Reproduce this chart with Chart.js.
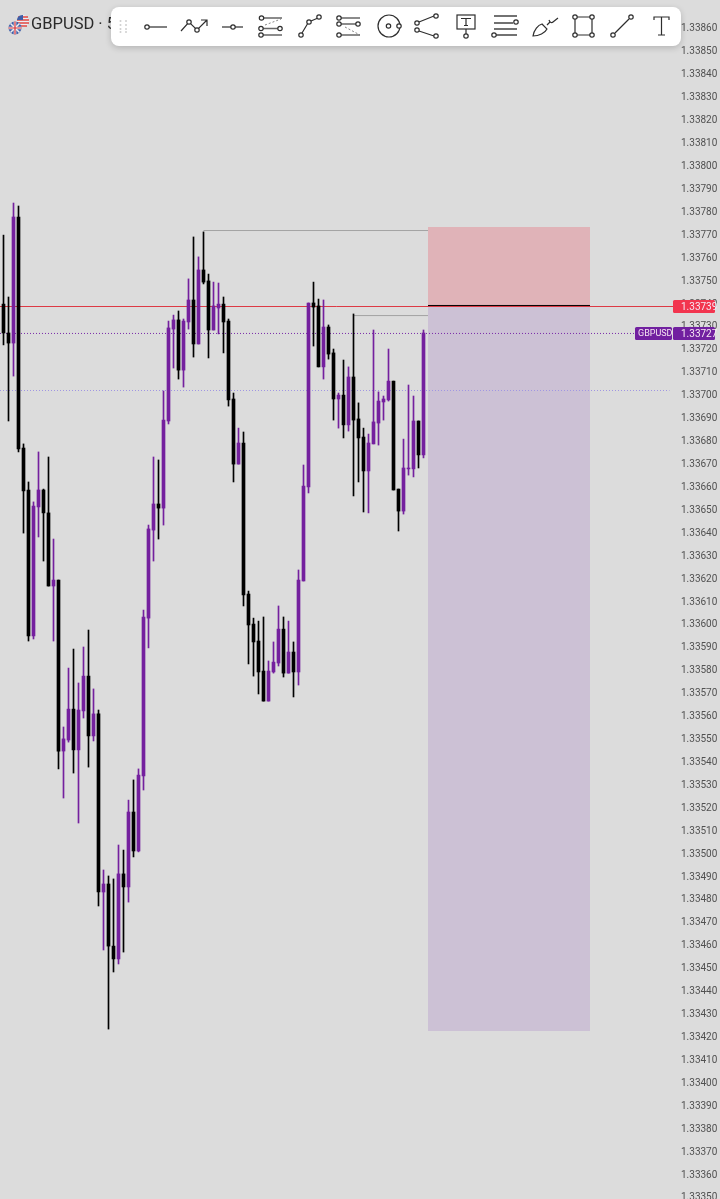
<!DOCTYPE html>
<html>
<head>
<meta charset="utf-8">
<title>GBPUSD</title>
<script src="https://cdn.jsdelivr.net/npm/chart.js@4"></script>
<style>
html,body{margin:0;padding:0;background:#dcdcdc;width:720px;height:1199px;overflow:hidden}
#wrap{position:relative;width:720px;height:1199px}
canvas{position:absolute;left:0;top:0}
#title{position:absolute;left:31px;top:14px;font:16.5px Roboto,sans-serif;color:#2b2b2b;white-space:nowrap}
#flag{position:absolute;left:8px;top:14px}
#bar{position:absolute;left:111px;top:7px;width:570px;height:39px;background:#fff;border-radius:8px;box-shadow:0 2px 6px rgba(0,0,0,.18)}
#icons{position:absolute;left:0;top:0}
#icons *{fill:none;stroke:#2e2e2e;stroke-width:1.2}
#icons circle{fill:#fff}
#icons .g{stroke:#666;stroke-width:1.7}
#icons .dots circle{fill:#cfcfcf;stroke:none}
#icons .d{stroke-dasharray:2 2;stroke:#777;stroke-width:.9}
</style>
</head>
<body>
<div id="wrap">
<canvas id="c" width="720" height="1199"></canvas>
<svg id="flag" width="24" height="24" viewBox="0 0 24 24">
  <circle cx="15" cy="7" r="6" fill="#e9eef5"/>
  <path d="M10 3h10M9 6h12M9 9h12M11 12h8" stroke="#e2453f" stroke-width="1.4"/>
  <path d="M10 3a6 6 0 0 1 5-2v5h-6a6 6 0 0 1 1-3z" fill="#3f5ea8"/>
  <circle cx="7" cy="14" r="6.500" fill="#3f5ea8"/>
  <path d="M2.500 9.500l9 9M11.500 9.500l-9 9" stroke="#eee" stroke-width="1.500"/>
  <path d="M7 7.500v13M.5 14h13" stroke="#eee" stroke-width="2.600"/>
  <path d="M7 7.500v13M.5 14h13" stroke="#d8343c" stroke-width="1.200"/>
</svg>
<div id="title">GBPUSD · 5</div>
<div id="bar"></div>
<svg id="icons" width="720" height="60">
  <g class="dots">
    <circle cx="120.500" cy="21" r="1"/><circle cx="126" cy="21" r="1"/>
    <circle cx="120.500" cy="25" r="1"/><circle cx="126" cy="25" r="1"/>
    <circle cx="120.500" cy="29" r="1"/><circle cx="126" cy="29" r="1"/>
    <circle cx="120.500" cy="32" r="1"/><circle cx="126" cy="32" r="1"/>
  </g>
  <path d="M149 27h18"/><circle cx="147" cy="27" r="2.200"/>
  <path d="M181 31l8-9 8 8 10-10M201 20h6v6"/><circle cx="189" cy="22" r="2.200"/><circle cx="197" cy="30" r="2.200"/>
  <path d="M222 27h21"/><circle cx="233" cy="27" r="2.200"/>
  <path d="M263 18h19M263 28.500h16M263 35h19" class="g"/><path d="M265 25l16-6" class="d"/>
  <circle cx="261.500" cy="18" r="2.200"/><circle cx="261" cy="28.500" r="2.200"/><circle cx="280" cy="28.500" r="2.200"/><circle cx="261" cy="35" r="2.200"/>
  <path d="M302 33l6-10M311 21l7-3"/><circle cx="301" cy="35" r="2.200"/><circle cx="309" cy="22" r="2.200"/><circle cx="319" cy="17" r="2.200"/>
  <path d="M341 18h19M341 24h15M341 35h19" class="g"/><path d="M345 27l15 8" class="d"/>
  <circle cx="339" cy="18" r="2.200"/><circle cx="339" cy="24" r="2.200"/><circle cx="358" cy="24" r="2.200"/><circle cx="339" cy="35" r="2.200"/>
  <circle cx="389" cy="26" r="11"/><circle cx="388.500" cy="26" r="2.200"/><circle cx="399" cy="26" r="2.200"/>
  <path d="M419 22l15-6M419 31l15 5"/><circle cx="417" cy="23" r="2.200"/><circle cx="436" cy="16" r="2.200"/><circle cx="417" cy="30" r="2.200"/><circle cx="436" cy="36" r="2.200"/>
  <rect x="457" y="15" width="18" height="14"/><path d="M461 18.500h10M466 18.500v7M464 25.500h4M466 29v5"/><circle cx="466" cy="36" r="2.200"/>
  <path d="M494 16h23M494 23h19M494 29h23M496 35h21" class="g" style="stroke:#444;stroke-width:1.300"/><circle cx="516" cy="22" r="2.200"/><circle cx="494" cy="35" r="2.200"/>
  <path d="M533 36c1-6 5-11 9-12l5 5c-2 4-8 7-14 7zM547 25l3-3M549 20c1 3 3 3 4 2M553 22l5-4"/>
  <path d="M575 17h17M575 35h17M575 17v18M592 17v18"/><circle cx="575" cy="17" r="2.200"/><circle cx="592" cy="17" r="2.200"/><circle cx="575" cy="35" r="2.200"/><circle cx="592" cy="35" r="2.200"/>
  <path d="M615 33l14-14"/><circle cx="613" cy="35" r="2.200"/><circle cx="631" cy="17" r="2.200"/>
  <path d="M654 20v-3h15v3M661.500 17v18M658 35h7"/>
</svg>
</div>
<script>
const symbol = 'GBPUSD';
const candleIndex = Array.from({length: 85}, (_, i) => i);
const opens = [1.337391,1.337265,1.337221,1.337771,1.336763,1.336580,1.335943,1.336506,1.336580,1.336480,1.336161,1.336187,1.335441,1.335489,1.335624,1.335446,1.335616,1.335768,1.335507,1.335603,1.334826,1.334861,1.334590,1.334534,1.334905,1.334848,1.335175,1.335005,1.335332,1.336021,1.336405,1.336519,1.336501,1.336881,1.337282,1.337322,1.337103,1.337313,1.337409,1.337217,1.337540,1.337492,1.337278,1.337374,1.337391,1.337317,1.336977,1.336693,1.336785,1.336126,1.335995,1.335921,1.335790,1.335659,1.335786,1.335825,1.335973,1.335781,1.335873,1.335786,1.336183,1.336593,1.337396,1.337383,1.337117,1.337291,1.337178,1.336977,1.336994,1.336864,1.337073,1.336890,1.336811,1.336663,1.336781,1.336872,1.336964,1.336973,1.337055,1.336584,1.336488,1.336672,1.336672,1.336881,1.336733];
const highs = [1.337692,1.337422,1.337832,1.337819,1.336781,1.336615,1.336528,1.336746,1.336584,1.336724,1.336366,1.336187,1.335546,1.335803,1.335886,1.335738,1.335895,1.335969,1.335712,1.335620,1.334922,1.334896,1.334883,1.335031,1.335009,1.335227,1.335315,1.335363,1.336056,1.336427,1.336724,1.336711,1.337012,1.337317,1.337343,1.337361,1.337326,1.337501,1.337684,1.337597,1.337706,1.337522,1.337487,1.337483,1.337422,1.337326,1.337003,1.336850,1.336833,1.336139,1.336021,1.336008,1.336026,1.335834,1.335917,1.336074,1.336026,1.336008,1.335917,1.336231,1.336689,1.337396,1.337487,1.337413,1.337409,1.337300,1.337195,1.337003,1.337147,1.337117,1.337348,1.336960,1.336850,1.336824,1.337278,1.337008,1.336990,1.337195,1.337055,1.336584,1.336802,1.337038,1.336990,1.336881,1.337278];
const lows = [1.337213,1.336881,1.337077,1.336746,1.336392,1.335921,1.335930,1.336375,1.336270,1.336161,1.335921,1.335363,1.335236,1.335480,1.335345,1.335127,1.335585,1.335371,1.335485,1.334765,1.334573,1.334228,1.334477,1.334512,1.334564,1.334782,1.334979,1.335001,1.335271,1.335891,1.336270,1.336366,1.336427,1.336868,1.337112,1.337064,1.337029,1.337282,1.337160,1.337217,1.337479,1.337156,1.337278,1.337261,1.337178,1.336946,1.336615,1.336693,1.336074,1.335821,1.335768,1.335690,1.335659,1.335659,1.335781,1.335812,1.335764,1.335781,1.335677,1.335729,1.336183,1.336567,1.337208,1.337117,1.337064,1.337151,1.336885,1.336850,1.336807,1.336837,1.336554,1.336615,1.336484,1.336480,1.336781,1.336776,1.336885,1.336968,1.336580,1.336401,1.336475,1.336645,1.336637,1.336676,1.336720];
const closes = [1.337265,1.337221,1.337771,1.336759,1.336576,1.335943,1.336510,1.336580,1.336480,1.336161,1.336187,1.335441,1.335494,1.335624,1.335446,1.335620,1.335768,1.335507,1.335603,1.334826,1.334861,1.334590,1.334534,1.334905,1.334848,1.335175,1.335005,1.335336,1.336026,1.336410,1.336519,1.336501,1.336885,1.337287,1.337322,1.337103,1.337317,1.337409,1.337217,1.337540,1.337487,1.337278,1.337383,1.337391,1.337313,1.336973,1.336693,1.336785,1.336122,1.335991,1.335917,1.335786,1.335659,1.335790,1.335829,1.335973,1.335781,1.335873,1.335786,1.336187,1.336597,1.337396,1.337378,1.337117,1.337291,1.337173,1.336977,1.336994,1.336864,1.337073,1.336885,1.336807,1.336663,1.336785,1.336877,1.336968,1.336977,1.337055,1.336580,1.336488,1.336676,1.336676,1.336881,1.336733,1.337265];
const yTicks = [1.3386,1.3385,1.3384,1.3383,1.3382,1.3381,1.338,1.3379,1.3378,1.3377,1.3376,1.3375,1.3374,1.3373,1.3372,1.3371,1.337,1.3369,1.3368,1.3367,1.3366,1.3365,1.3364,1.3363,1.3362,1.3361,1.336,1.3359,1.3358,1.3357,1.3356,1.3355,1.3354,1.3353,1.3352,1.3351,1.335,1.3349,1.3348,1.3347,1.3346,1.3345,1.3344,1.3343,1.3342,1.3341,1.334,1.3339,1.3338,1.3337,1.3336,1.3335];
// Position tool: profit / loss zones and entry
const zoneFrom = 84.9, zoneTo = 117.3;
const zoneTop = 1.337727, zoneEntry = 1.337385, zoneBottom = 1.334220;
// Horizontal price lines
const bidLine = 1.3373805, lastLine = 1.337263, paleLine = 1.337014;
const swingA = [40, 84.9, 1.337712], swingB = [70, 84.9, 1.337341];
const bidLabel = '1.33739', lastLabel = '1.33727';

const UP = '#74209e', DOWN = '#000000';
const colorFor = i => closes[i] >= opens[i] ? UP : DOWN;
const seg = (x0, x1, y) => [{x: x0, y}, {x: x1, y}];
const hline = (data, color, extra) => Object.assign({
  type: 'line', data, borderColor: color, borderWidth: 1, pointRadius: 0,
  fill: false, order: 5, tension: 0
}, extra || {});

const Y_TOP = 1.3387178, Y_BOTTOM = 1.3334866, X_MIN = -0.7, X_MAX = 133.9;

const badges = {
  id: 'badges',
  afterDatasetsDraw(chart) {
    const {ctx, scales: {y}} = chart;
    ctx.save();
    ctx.textBaseline = 'middle';
    const box = (x, w, py, color, text, tx, size) => {
      const t = Math.round(py - 6.500);
      ctx.fillStyle = color;
      ctx.beginPath();
      ctx.roundRect(x, t, w, 13, 1.500);
      ctx.fill();
      ctx.font = size + 'px "Liberation Sans Narrow", Roboto, sans-serif';
      ctx.fillStyle = '#f6e6f2';
      ctx.textAlign = 'left';
      ctx.fillText(text, tx, t + 7);
    };
    box(673, 42, y.getPixelForValue(bidLine), '#f2354f', bidLabel, 681, 10);
    const ly = y.getPixelForValue(lastLine);
    box(635, 37, ly, '#7120a0', symbol, 638, 9);
    box(673, 42, ly, '#7120a0', lastLabel, 681, 10);
    ctx.restore();
  }
};

new Chart(document.getElementById('c'), {
  type: 'bar',
  data: {
    datasets: [
      {
        label: 'bodies', grouped: false, barThickness: 3, order: 1,
        data: candleIndex.map(i => ({x: i, y: [opens[i], closes[i]]})),
        backgroundColor: candleIndex.map(colorFor)
      },
      {
        label: 'wicks', grouped: false, barThickness: 1, order: 2,
        data: candleIndex.map(i => ({x: i, y: [lows[i], highs[i]]})),
        backgroundColor: candleIndex.map(colorFor)
      },
      hline(seg(-1, 134, bidLine), '#dd3a45'),
      hline(seg(-0.7, 126.400, lastLine), '#7a2aa8', {borderDash: [1, 2]}),
      hline(seg(-0.7, 133.200, paleLine), '#a096e2', {borderDash: [1, 2]}),
      hline(seg(swingA[0], swingA[1], swingA[2]), '#a3a3a3'),
      hline(seg(swingB[0], swingB[1], swingB[2]), '#a3a3a3'),
      hline(seg(zoneFrom, zoneTo, zoneEntry), '#000000', {order: 3}),
      hline(seg(zoneFrom, zoneTo, zoneTop), 'rgba(0,0,0,0)', {
        order: 6, borderWidth: 0, fill: {target: {value: zoneEntry}}, backgroundColor: '#e0b3b8'
      }),
      hline(seg(zoneFrom, zoneTo, zoneEntry), 'rgba(0,0,0,0)', {
        order: 6, borderWidth: 0, fill: {target: {value: zoneBottom}}, backgroundColor: '#ccc1d5'
      })
    ]
  },
  options: {
    responsive: false,
    animation: false,
    devicePixelRatio: 1,
    layout: {padding: 0},
    plugins: {legend: {display: false}, tooltip: {enabled: false}, title: {display: false}},
    scales: {
      x: {type: 'linear', min: X_MIN, max: X_MAX, display: false, offset: false, grid: {display: false}},
      y: {
        type: 'linear', position: 'right', min: Y_BOTTOM, max: Y_TOP,
        grid: {display: false, drawTicks: false}, border: {display: false},
        afterBuildTicks(s) { s.ticks = yTicks.map(v => ({value: v})); },
        afterFit(s) { s.width = 47; s.paddingTop = 0; s.paddingBottom = 0; },
        ticks: {
          autoSkip: false, padding: 8, color: '#505050', labelOffset: 2,
          font: {family: '"Liberation Sans Narrow", Roboto, sans-serif', size: 10},
          callback: v => Number(v).toFixed(5)
        }
      }
    }
  },
  plugins: [badges]
});
</script>
</body>
</html>
